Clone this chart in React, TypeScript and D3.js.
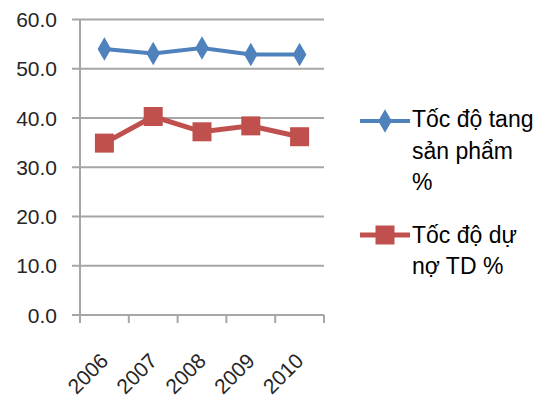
import React from "react";
import * as d3 from "d3";

const years = ["2006", "2007", "2008", "2009", "2010"];
const productGrowth = [54.0, 53.1, 54.2, 52.9, 52.9];
const creditGrowth = [34.9, 40.3, 37.2, 38.4, 36.2];
const yTicks = [0, 10, 20, 30, 40, 50, 60];
const legendProduct = ["Tốc độ tang", "sản phẩm", "%"];
const legendCredit = ["Tốc độ dự", "nợ TD %"];

const W = 548;
const H = 401;
const FONT = "'Liberation Sans', Arial, sans-serif";
const BLUE = "#4F81BD";
const RED = "#C0504D";
const GRID = "#A6A6A6";
const INK = "#262626";

export default function App() {
  const x = d3.scaleBand<string>().domain(years).range([80, 324]);
  const y = d3.scaleLinear().domain([0, 60]).range([315, 19.5]);
  const cx = (d: string) => (x(d) ?? 0) + x.bandwidth() / 2;

  const line = d3
    .line<number>()
    .x((_, i) => cx(years[i]))
    .y((v) => y(v));

  const diamond = d3.symbol().type(d3.symbolDiamond).size(160)();
  const xEdges = [...years.map((d) => x(d) ?? 0), 324];
  const sq = 19;

  return (
    <svg
      width={W}
      height={H}
      style={{ position: "absolute", left: 0, top: 0, background: "#fff" }}
      fontFamily={FONT}
    >
      {yTicks.map((t) => (
        <g key={t}>
          <line x1={72} x2={324} y1={y(t)} y2={y(t)} stroke={GRID} strokeWidth={2} />
          <text
            x={57}
            y={y(t)}
            dy="0.36em"
            textAnchor="end"
            fontSize={21}
            fill={INK}
          >
            {t.toFixed(1)}
          </text>
        </g>
      ))}
      <line x1={80} x2={80} y1={y(60)} y2={y(0) + 8} stroke={GRID} strokeWidth={2} />
      {xEdges.map((e, i) => (
        <line key={i} x1={e} x2={e} y1={y(0)} y2={y(0) + 8} stroke={GRID} strokeWidth={2} />
      ))}
      {years.map((d) => (
        <text
          key={d}
          transform={`translate(${cx(d)},${y(0) + 42}) rotate(-45)`}
          textAnchor="end"
          dy="0.35em"
          fontSize={21}
          fill={INK}
        >
          {d}
        </text>
      ))}

      <path d={line(productGrowth) ?? ""} fill="none" stroke={BLUE} strokeWidth={4} />
      {productGrowth.map((v, i) => (
        <path key={i} d={diamond ?? ""} transform={`translate(${cx(years[i])},${y(v)})`} fill={BLUE} />
      ))}

      <path d={line(creditGrowth) ?? ""} fill="none" stroke={RED} strokeWidth={5} />
      {creditGrowth.map((v, i) => (
        <rect key={i} x={cx(years[i]) - sq / 2} y={y(v) - sq / 2} width={sq} height={sq} fill={RED} />
      ))}

      {/* legend */}
      <line x1={360} x2={410} y1={121} y2={121} stroke={BLUE} strokeWidth={4} />
      <path d={diamond ?? ""} transform="translate(385,121)" fill={BLUE} />
      {legendProduct.map((s, i) => (
        <text key={s} x={412} y={127 + i * 31.5} fontSize={23} fill="#000">
          {s}
        </text>
      ))}
      <line x1={360} x2={410} y1={235} y2={235} stroke={RED} strokeWidth={5} />
      <rect x={385 - sq / 2} y={235 - sq / 2} width={sq} height={sq} fill={RED} />
      {legendCredit.map((s, i) => (
        <text key={s} x={412} y={243 + i * 31} fontSize={23} fill="#000">
          {s}
        </text>
      ))}
    </svg>
  );
}
